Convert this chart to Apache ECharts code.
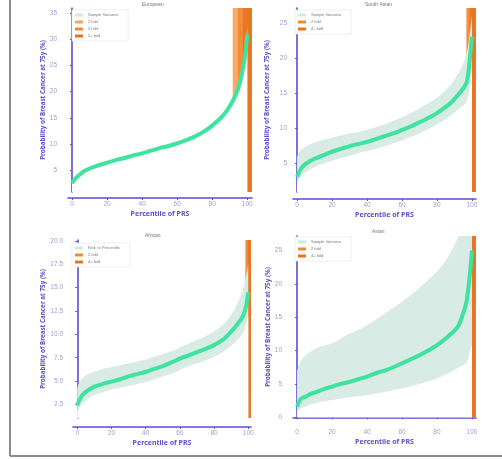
<!DOCTYPE html>
<html>
<head>
<meta charset="utf-8">
<script src="https://cdn.jsdelivr.net/npm/echarts@6/dist/echarts.min.js"></script>
<style>
html, body { margin: 0; padding: 0; background: #fff; }
#chart { width: 502px; height: 459px; }
</style>
</head>
<body>
<div id="chart"></div>
<script>
// percentile of PRS (x) shared by all panels
const pct = [0, 1, 2, 3, 5, 7, 10, 15, 20, 25, 30, 35, 40, 45, 50, 55, 60, 65, 70, 75, 80, 85, 88, 90, 92, 94, 95, 96, 97, 98, 99, 100]

// European
const eurMid = [2.5, 3.0, 3.4, 3.7, 4.3, 4.8, 5.3, 5.9, 6.4, 6.9, 7.3, 7.8, 8.2, 8.7, 9.2, 9.6, 10.1, 10.7, 11.4, 12.3, 13.5, 15.0, 16.2, 17.2, 18.4, 19.8, 20.8, 22.0, 23.5, 25.3, 27.5, 31.0]
const eurLow = [2.2, 2.7, 3.1, 3.4, 4.0, 4.5, 5.0, 5.6, 6.1, 6.6, 7.0, 7.5, 7.9, 8.4, 8.9, 9.3, 9.8, 10.4, 11.1, 12.0, 13.1, 14.6, 15.7, 16.7, 17.8, 19.2, 20.1, 21.2, 22.6, 24.3, 26.4, 29.6]
const eurHigh = [2.8, 3.3, 3.7, 4.0, 4.6, 5.1, 5.6, 6.2, 6.7, 7.2, 7.6, 8.1, 8.5, 9.0, 9.5, 9.9, 10.4, 11.0, 11.7, 12.6, 13.9, 15.4, 16.7, 17.7, 19.0, 20.4, 21.5, 22.8, 24.4, 26.3, 28.6, 32.4]
const eurFolds = ['2 fold', '3 fold', '5+ fold']
const eurFoldStart = [91.7, 94.7, 97.5]

// South Asian
const saMid = [3.0, 3.6, 4.1, 4.4, 4.9, 5.2, 5.6, 6.1, 6.6, 7.0, 7.4, 7.7, 8.0, 8.4, 8.8, 9.2, 9.7, 10.2, 10.8, 11.4, 12.1, 13.0, 13.6, 14.1, 14.7, 15.3, 15.6, 16.0, 16.5, 18.0, 20.5, 23.0]
const saLow = [2.2, 2.6, 3.0, 3.3, 3.7, 4.0, 4.4, 4.9, 5.3, 5.7, 6.0, 6.4, 6.7, 7.0, 7.4, 7.8, 8.2, 8.7, 9.2, 9.8, 10.5, 11.2, 11.8, 12.2, 12.6, 13.0, 13.2, 13.4, 13.8, 14.5, 16.0, 18.0]
const saHigh = [5.8, 6.4, 6.8, 7.0, 7.3, 7.6, 7.9, 8.3, 8.6, 8.9, 9.2, 9.4, 9.7, 10.1, 10.5, 11.0, 11.5, 12.1, 12.8, 13.5, 14.3, 15.4, 16.2, 16.9, 17.7, 18.6, 19.2, 19.9, 20.8, 22.0, 24.0, 26.0]
const saFolds = ['2 fold', '4+ fold']
const saFoldStart = [96.8, 98.6]

// African
const afrMid = [2.4, 2.9, 3.2, 3.5, 3.85, 4.1, 4.4, 4.7, 4.95, 5.2, 5.5, 5.75, 6.0, 6.3, 6.6, 7.0, 7.4, 7.75, 8.1, 8.45, 8.85, 9.4, 9.9, 10.3, 10.7, 11.2, 11.4, 11.7, 12.0, 12.5, 13.3, 14.5]
const afrLow = [1.8, 2.1, 2.4, 2.6, 2.9, 3.2, 3.5, 3.8, 4.1, 4.3, 4.5, 4.7, 4.9, 5.2, 5.5, 5.8, 6.2, 6.6, 6.9, 7.2, 7.6, 8.1, 8.5, 8.8, 9.1, 9.5, 9.7, 9.9, 10.2, 10.6, 11.2, 12.0]
const afrHigh = [4.2, 4.8, 5.1, 5.3, 5.6, 5.8, 6.0, 6.3, 6.5, 6.7, 6.9, 7.1, 7.3, 7.6, 7.9, 8.2, 8.6, 9.0, 9.4, 9.8, 10.3, 11.0, 11.6, 12.1, 12.7, 13.4, 13.8, 14.3, 14.9, 15.6, 16.5, 17.5]
const afrFolds = ['2 fold', '4+ fold']
const afrFoldStart = [98.3, 99.6]

// Asian
const asiMid = [1.6, 2.2, 2.7, 2.9, 3.1, 3.4, 3.7, 4.2, 4.6, 5.0, 5.3, 5.7, 6.1, 6.6, 7.0, 7.5, 8.1, 8.7, 9.3, 10.0, 10.8, 11.8, 12.5, 13.0, 13.6, 14.8, 15.6, 16.4, 17.5, 19.5, 22.0, 25.0]
const asiLow = [0.85, 1.1, 1.3, 1.45, 1.6, 1.85, 2.1, 2.4, 2.6, 2.8, 3.0, 3.15, 3.3, 3.55, 3.8, 4.05, 4.3, 4.65, 5.0, 5.4, 5.8, 6.4, 6.8, 7.1, 7.4, 7.7, 7.8, 8.0, 8.3, 9.0, 10.0, 11.0]
const asiHigh = [6.8, 7.8, 8.4, 8.8, 9.3, 9.7, 10.2, 10.7, 11.1, 11.8, 12.5, 13.1, 13.8, 14.6, 15.5, 16.4, 17.3, 18.3, 19.4, 20.6, 21.8, 23.5, 24.8, 25.8, 27.0, 28.5, 29.5, 30.5, 31.5, 32.5, 33.5, 35.0]
const asiFolds = ['2 fold', '4+ fold']
const asiFoldStart = [96.2, 98.4]

// tick labels
const xTicks = [0, 20, 40, 60, 80, 100]
const eurTicks = [5, 10, 15, 20, 25, 30, 35]
const saTicks = [5, 10, 15, 20, 25]
const afrTicks = [2.5, 5, 7.5, 10, 12.5, 15, 17.5, 20]
const asiTicks = [0, 5, 10, 15, 20, 25]

const titles = ['European', 'South Asian', 'African', 'Asian']
const lineNames = ['Sample Variance', 'Sample Variance', 'Risk vs Percentile', 'Sample Variance']

const panels = [
  { mid: eurMid, low: eurLow, high: eurHigh, folds: eurFolds, start: eurFoldStart, ticks: eurTicks, dec: 0 },
  { mid: saMid, low: saLow, high: saHigh, folds: saFolds, start: saFoldStart, ticks: saTicks, dec: 0 },
  { mid: afrMid, low: afrLow, high: afrHigh, folds: afrFolds, start: afrFoldStart, ticks: afrTicks, dec: 1 },
  { mid: asiMid, low: asiLow, high: asiHigh, folds: asiFolds, start: asiFoldStart, ticks: asiTicks, dec: 0 }
]

// positions only
const layout = [
  { left: 68, top: 8, width: 184, height: 184, xMin: -2.3, xMax: 102.7, yMin: 0.8, yMax: 36, yOff: 8, xOff: 6, yGap: 14, lgLeft: 72, lgTop: 10, tx: 157, ty: 2 },
  { left: 293, top: 8, width: 183, height: 184, xMin: -2.3, xMax: 102.3, yMin: 0.85, yMax: 27.1, yOff: 3, xOff: 7, yGap: 20, lgLeft: 295, lgTop: 10, tx: 380, ty: 2 },
  { left: 73, top: 240, width: 178, height: 178, xMin: -2.5, xMax: 101.6, yMin: 1.05, yMax: 20.1, yOff: 7, xOff: 9, yGap: 18, lgLeft: 72, lgTop: 243, tx: 160, ty: 233 },
  { left: 293, top: 236, width: 183, height: 182, xMin: -2.3, xMax: 102.3, yMin: -0.1, yMax: 27.15, yOff: 8, xOff: 8, yGap: 14, lgLeft: 295, lgTop: 237, tx: 387, ty: 229 }
]

const axisColor = '#5a4fcb'
const labelColor = '#a09ec6'
const green = '#3ee39e'
const ribbon = '#d8ebe5'
const foldColors = ['#f7a45e', '#f18a36', '#e8741f']

const chart = echarts.init(document.getElementById('chart'), null, { renderer: 'canvas' })

const grid = []
const xAxis = []
const yAxis = []
const series = []
const legend = []
const graphic = []

panels.forEach((p, i) => {
  const l = layout[i]
  const shift = p.folds.length === 2 ? 1 : 0
  grid.push({ left: l.left, top: l.top, width: l.width, height: l.height })
  xAxis.push({
    type: 'value', gridIndex: i, min: l.xMin, max: l.xMax, offset: l.xOff,
    name: 'Percentile of PRS', nameLocation: 'middle', nameGap: 12,
    nameTextStyle: { color: axisColor, fontWeight: 'bold', fontSize: 7, fontFamily: 'Noto Sans' },
    axisLine: { lineStyle: { color: axisColor, width: 1.6 } },
    axisTick: { customValues: xTicks, length: 2, lineStyle: { color: axisColor } },
    axisLabel: { customValues: xTicks, color: labelColor, fontSize: 6.5, margin: 3 },
    splitLine: { show: false }
  })
  yAxis.push({
    type: 'value', gridIndex: i, min: l.yMin, max: l.yMax, offset: l.yOff,
    name: 'Probability of Breast Cancer at 75y (%)', nameLocation: 'middle', nameGap: l.yGap,
    nameTextStyle: { color: axisColor, fontWeight: 'bold', fontSize: 6.3, fontFamily: 'Noto Sans' },
    axisLine: { show: true, lineStyle: { color: axisColor, width: 1.6 } },
    axisTick: { show: true, customValues: p.ticks, length: 2, lineStyle: { color: axisColor } },
    axisLabel: {
      customValues: p.ticks, color: labelColor, fontSize: 6.5, margin: 3,
      formatter: v => v.toFixed(p.dec)
    },
    splitLine: { show: false }
  })

  // ribbon: upper bound filled down, lower bound painted back in white
  series.push({
    type: 'line', xAxisIndex: i, yAxisIndex: i, data: pct.map((x, k) => [x, p.high[k]]),
    symbol: 'none', smooth: 0.3, silent: true, lineStyle: { width: 0 },
    areaStyle: { color: ribbon, opacity: 1 }, z: 1
  })
  series.push({
    type: 'line', xAxisIndex: i, yAxisIndex: i, data: pct.map((x, k) => [x, p.low[k]]),
    symbol: 'none', smooth: 0.3, silent: true, lineStyle: { width: 0 },
    areaStyle: { color: '#ffffff', opacity: 1 }, z: 1
  })
  series.push({
    name: lineNames[i], type: 'line', xAxisIndex: i, yAxisIndex: i,
    data: pct.map((x, k) => [x, p.mid[k]]),
    symbol: 'none', smooth: 0.3, lineStyle: { color: green, width: 4 },
    itemStyle: { color: green }, z: 2
  })
  p.folds.forEach((f, k) => {
    series.push({
      name: f, type: 'line', xAxisIndex: i, yAxisIndex: i, data: [], z: 3 + k,
      itemStyle: { color: foldColors[k + shift] },
      markArea: {
        silent: true,
        itemStyle: { color: foldColors[k + shift], opacity: 0.93 },
        data: [[{ coord: [p.start[k], l.yMin] }, { coord: [l.xMax, l.yMax] }]]
      }
    })
  })

  legend.push({
    left: l.lgLeft, top: l.lgTop, orient: 'vertical', selectedMode: false,
    itemWidth: 8, itemHeight: 3, itemGap: 3, padding: [3, 10, 3, 3],
    borderColor: '#e2e2e2', borderWidth: 0.6, backgroundColor: '#fff',
    textStyle: { fontSize: 4, color: '#777' },
    data: [{ name: lineNames[i], icon: 'rect', itemStyle: { color: '#c6efe0' } }].concat(
      p.folds.map((f, k) => ({ name: f, icon: 'rect', itemStyle: { color: foldColors[k + shift] } }))
    )
  })

  graphic.push({
    type: 'text', left: l.tx - 15, top: l.ty,
    style: { text: titles[i], fill: '#777', fontSize: 5, width: 30, align: 'center' }
  })
})

// frame around the figure
graphic.push({ type: 'line', shape: { x1: 10, y1: 0, x2: 10, y2: 456 }, style: { stroke: '#8c8c8c', lineWidth: 2 } })
graphic.push({ type: 'line', shape: { x1: 10, y1: 456, x2: 502, y2: 456 }, style: { stroke: '#8c8c8c', lineWidth: 2 } })

chart.setOption({
  animation: false,
  backgroundColor: '#fff',
  grid: grid,
  xAxis: xAxis,
  yAxis: yAxis,
  legend: legend,
  graphic: graphic,
  series: series
})
</script>
</body>
</html>
